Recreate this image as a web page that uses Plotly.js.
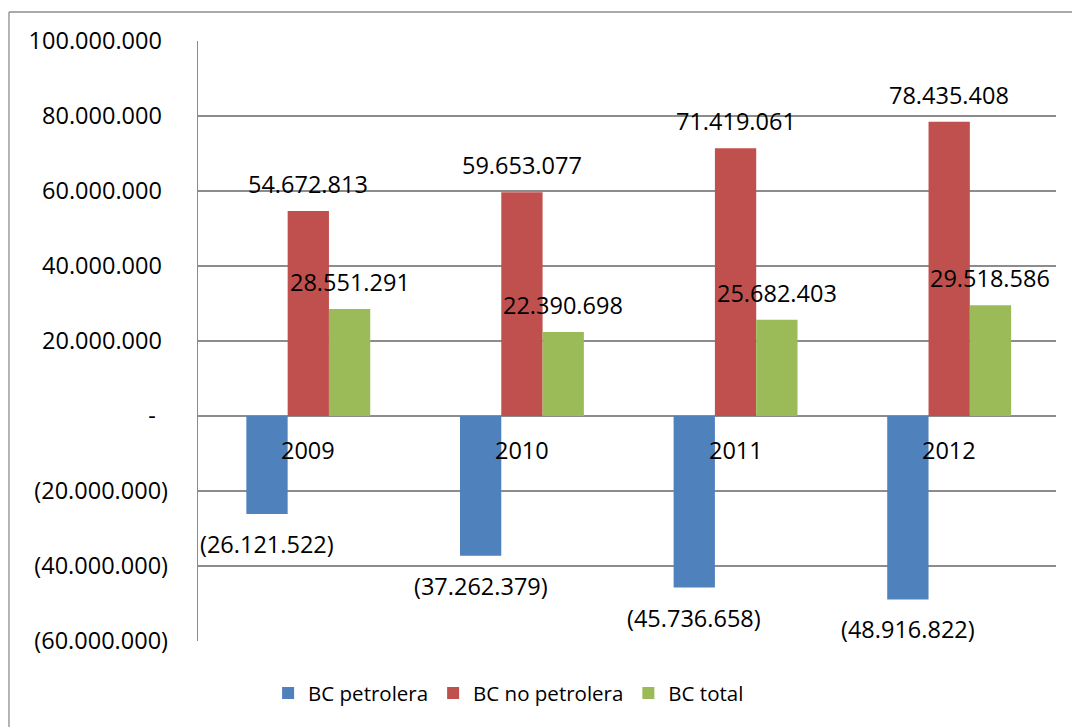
<!DOCTYPE html>
<html>
<head>
<meta charset="utf-8">
<script src="https://cdn.plot.ly/plotly-3.0.1.min.js"></script>
<style>html,body{margin:0;padding:0;background:#fff;}#chart{width:1072px;height:727px;}</style>
</head>
<body>
<div id="chart"></div>
<script>
const categories = ['2009', '2010', '2011', '2012'];
const seriesNames = ['BC petrolera', 'BC no petrolera', 'BC total'];
const bcPetrolera = [-26121522, -37262379, -45736658, -48916822];
const bcNoPetrolera = [54672813, 59653077, 71419061, 78435408];
const bcTotal = [28551291, 22390698, 25682403, 29518586];
const colors = ['#4F81BD', '#C0504D', '#9BBB59'];
const yTickVals = [100000000, 80000000, 60000000, 40000000, 20000000, 0, -20000000, -40000000, -60000000];

function fmt(v) {
  const s = Math.abs(Math.round(v)).toString().replace(/\B(?=(\d{3})+(?!\d))/g, '.');
  return v < 0 ? '(' + s + ')' : s;
}
function tickFmt(v) {
  if (v === 0) return '-\u00a0\u00a0';
  return v < 0 ? fmt(v) : fmt(v) + '\u00a0';
}

const FONT = '"Open Sans", "Liberation Sans", sans-serif';
const FS = 23.5;
const allSeries = [bcPetrolera, bcNoPetrolera, bcTotal];

const traces = allSeries.map((vals, i) => ({
  type: 'bar',
  name: seriesNames[i],
  x: categories,
  y: vals,
  marker: {color: colors[i], line: {width: 0}},
  hoverinfo: 'none'
}));

const barPx = 41.3;
const annotations = [];
allSeries.forEach((vals, i) => {
  vals.forEach((v, j) => {
    annotations.push({
      x: categories[j], y: v, xref: 'x', yref: 'y',
      text: fmt(v), showarrow: false,
      xshift: (i - 1) * barPx,
      yshift: v >= 0 ? 27 : -30,
      yanchor: 'middle', xanchor: 'center',
      font: {family: FONT, size: FS, color: '#000'}
    });
  });
});
categories.forEach(c => {
  annotations.push({
    x: c, y: 0, xref: 'x', yref: 'y', text: c, showarrow: false,
    yshift: -34, yanchor: 'middle', xanchor: 'center',
    font: {family: FONT, size: FS, color: '#000'}
  });
});

const layout = {
  width: 1072, height: 727,
  margin: {l: 198, r: 16, t: 41, b: 86},
  paper_bgcolor: '#fff', plot_bgcolor: '#fff',
  font: {family: FONT, size: FS, color: '#000'},
  barmode: 'group', bargap: 0.42, bargroupgap: 0,
  showlegend: true,
  legend: {orientation: 'h', x: 0.362, xanchor: 'center', y: -0.087, yanchor: 'middle',
           font: {family: FONT, size: 20.5, color: '#000'}, itemwidth: 30, traceorder: 'normal'},
  xaxis: {showticklabels: false, showgrid: false, zeroline: false, showline: false, ticks: ''},
  yaxis: {range: [-60000000, 100000000], tickvals: yTickVals, ticktext: yTickVals.map(tickFmt),
          showgrid: true, gridcolor: '#8c8c8c', gridwidth: 1.3, zeroline: true, zerolinecolor: '#8c8c8c', zerolinewidth: 1.3,
          showline: true, linecolor: '#8c8c8c', linewidth: 1.3, ticks: '', ticklabelstandoff: 24,
          tickfont: {family: FONT, size: FS, color: '#000'}},
  annotations: annotations,
  shapes: [
    {type: 'line', xref: 'paper', yref: 'paper', x0: -0.2203, x1: 1.05, y0: 1.0483, y1: 1.0483, line: {color: '#8c8c8c', width: 1.3}},
    {type: 'line', xref: 'paper', yref: 'paper', x0: -0.2203, x1: -0.2203, y0: 1.0483, y1: -0.2, line: {color: '#8c8c8c', width: 1.3}}
  ]
};

Plotly.newPlot('chart', traces, layout, {displayModeBar: false, staticPlot: true});
</script>
</body>
</html>
